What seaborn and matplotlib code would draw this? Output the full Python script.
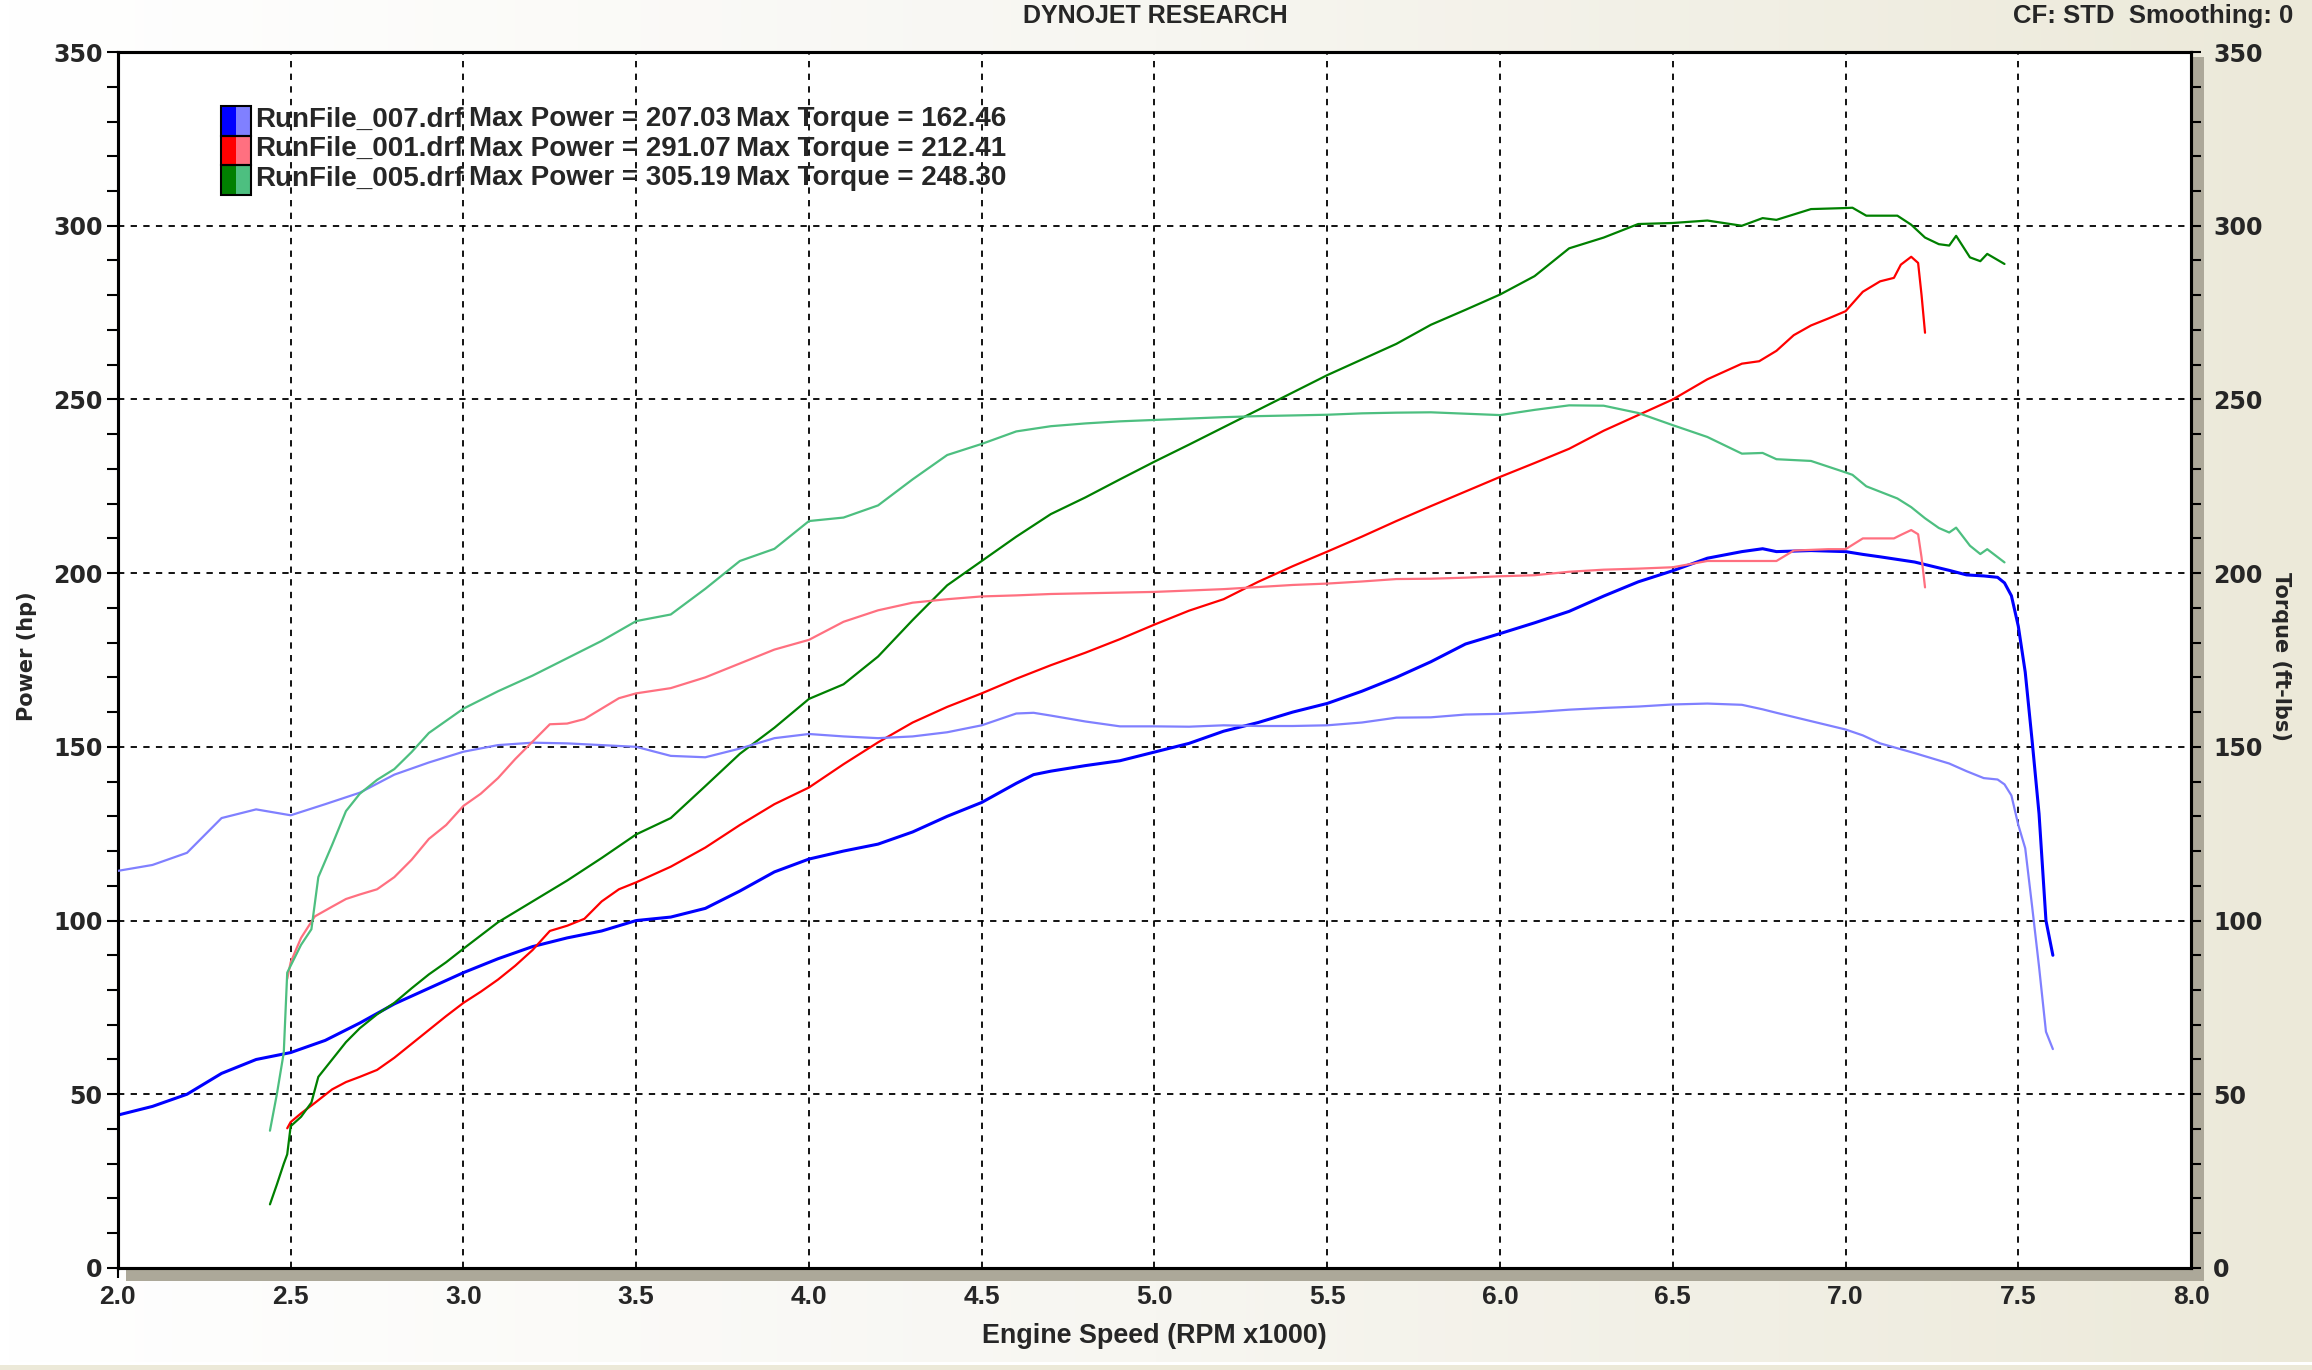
import numpy as np
import pandas as pd
import matplotlib
matplotlib.use("Agg")
import matplotlib.pyplot as plt
import seaborn as sns
from matplotlib.patches import Rectangle
from matplotlib.colors import LinearSegmentedColormap

# ---------------- data ----------------
rpm_007 = [2.0, 2.1, 2.2, 2.3, 2.4, 2.5, 2.6, 2.7, 2.8, 2.9, 3.0, 3.1, 3.2, 3.3, 3.4, 3.5, 3.6, 3.7, 3.8, 3.9,
           4.0, 4.1, 4.2, 4.3, 4.4, 4.5, 4.6, 4.65, 4.7, 4.8, 4.9, 5.0, 5.1, 5.2, 5.3, 5.4, 5.5, 5.6, 5.7, 5.8,
           5.9, 6.0, 6.1, 6.2, 6.3, 6.4, 6.5, 6.6, 6.7, 6.76, 6.8, 6.9, 7.0, 7.05, 7.1, 7.2, 7.3, 7.35, 7.4,
           7.44, 7.46, 7.48, 7.5, 7.52, 7.54, 7.56, 7.58, 7.6]
power_007 = [44, 46.5, 50, 56, 60, 62, 65.5, 70.5, 76, 80.5, 85, 89, 92.5, 95, 97, 100, 101, 103.5, 108.5, 114,
             117.7, 120, 122, 125.5, 130, 134, 139.5, 142, 143, 144.6, 146, 148.5, 151, 154.5, 157, 160, 162.5,
             166, 170, 174.5, 179.6, 182.6, 185.7, 189, 193.4, 197.5, 200.7, 204.3, 206.2, 207.03, 206.2, 206.5,
             206.2, 205.4, 204.7, 203.2, 200.8, 199.5, 199.2, 198.8, 197.2, 193.5, 184.7, 171.5, 151.7, 130.7,
             100, 90]
torque_007 = [114.3, 116, 119.5, 129.5, 132, 130.3, 133.5, 136.8, 142, 145.5, 148.6, 150.5, 151.2, 151, 150.5,
              150, 147.4, 147, 149.5, 152.5, 153.7, 153, 152.5, 153, 154.2, 156.2, 159.6, 159.8, 159, 157.3,
              155.9, 155.9, 155.8, 156.2, 156, 156, 156.2, 157, 158.4, 158.5, 159.3, 159.5, 160, 160.7, 161.2,
              161.6, 162.2, 162.46, 162.1, 160.8, 159.8, 157.4, 155, 153.3, 151, 148.2, 145.2, 143, 141, 140.6,
              139.2, 136, 127.5, 120.8, 104, 86.7, 68, 63]

rpm_001 = [2.49, 2.5, 2.53, 2.57, 2.62, 2.66, 2.7, 2.75, 2.8, 2.85, 2.9, 2.95, 3.0, 3.05, 3.1, 3.15, 3.2, 3.25,
           3.3, 3.35, 3.4, 3.45, 3.5, 3.6, 3.7, 3.8, 3.9, 4.0, 4.1, 4.2, 4.3, 4.4, 4.5, 4.6, 4.7, 4.8, 4.9, 5.0,
           5.1, 5.2, 5.3, 5.4, 5.5, 5.6, 5.7, 5.8, 5.9, 6.0, 6.1, 6.2, 6.3, 6.4, 6.5, 6.6, 6.7, 6.75, 6.8, 6.85,
           6.9, 6.95, 7.0, 7.05, 7.1, 7.14, 7.16, 7.19, 7.21, 7.22, 7.23]
power_001 = [40.2, 42, 44.5, 47.5, 51.4, 53.5, 55, 57, 60.5, 64.5, 68.5, 72.5, 76.3, 79.5, 83, 87, 91.5, 97,
             98.5, 100.5, 105.5, 109, 111, 115.5, 121, 127.5, 133.5, 138.3, 145, 151.3, 157, 161.5, 165.4, 169.6,
             173.5, 177.1, 181, 185.2, 189.2, 192.5, 197.5, 202, 206.2, 210.5, 215, 219.3, 223.5, 227.7, 231.7,
             235.8, 241, 245.5, 250, 255.8, 260.3, 261, 264, 268.5, 271.3, 273.3, 275.4, 281, 284, 285, 288.8,
             291.07, 289.3, 280, 269.2]
torque_001 = [83.2, 88, 95, 101.2, 104, 106.2, 107.5, 109, 112.5, 117.5, 123.5, 127.5, 133, 136.5, 141, 146.5,
              151.5, 156.5, 156.7, 158, 161, 164, 165.4, 166.9, 170, 174, 178, 180.8, 186, 189.3, 191.5, 192.5,
              193.3, 193.6, 194, 194.2, 194.4, 194.6, 195, 195.4, 196, 196.6, 197, 197.6, 198.3, 198.4, 198.7,
              199.1, 199.4, 200.4, 201, 201.3, 201.7, 203.5, 203.5, 203.5, 203.5, 206.5, 206.7, 206.9, 206.9,
              210, 210, 210, 211, 212.41, 211.2, 204.5, 195.9]

rpm_005 = [2.44, 2.46, 2.48, 2.49, 2.5, 2.53, 2.56, 2.58, 2.62, 2.66, 2.7, 2.75, 2.8, 2.85, 2.9, 2.95, 3.0, 3.1,
           3.2, 3.3, 3.4, 3.5, 3.6, 3.7, 3.8, 3.9, 4.0, 4.1, 4.2, 4.3, 4.4, 4.5, 4.6, 4.7, 4.8, 4.9, 5.0, 5.1,
           5.2, 5.3, 5.4, 5.5, 5.6, 5.7, 5.8, 5.9, 6.0, 6.1, 6.2, 6.3, 6.4, 6.5, 6.6, 6.7, 6.76, 6.8, 6.9, 7.0,
           7.02, 7.06, 7.15, 7.19, 7.23, 7.27, 7.3, 7.32, 7.36, 7.39, 7.41, 7.46]
power_005 = [18.3, 24, 30, 32.7, 40.8, 43.5, 47.6, 55, 60, 65, 69, 73, 76.3, 80.5, 84.5, 88, 91.9, 99.5, 105.5,
             111.5, 118, 124.8, 129.5, 138.7, 148, 155.5, 163.8, 168, 176, 186.5, 196.5, 203.5, 210.5, 217,
             221.8, 227, 232.1, 237, 242, 247, 252, 257, 261.5, 266, 271.5, 275.8, 280.2, 285.5, 293.5, 296.6,
             300.5, 300.8, 301.5, 300, 302.2, 301.7, 304.8, 305.1, 305.19, 302.9, 302.9, 300.3, 296.6, 294.7,
             294.3, 297.1, 290.9, 289.8, 291.9, 289]
torque_005 = [39.5, 50, 62, 85, 87, 93, 97.5, 112.5, 121.8, 131.5, 136.5, 140.5, 143.6, 148.5, 154, 157.5, 161,
              166, 170.5, 175.5, 180.5, 186.2, 188.1, 195.5, 203.5, 207, 215, 216, 219.5, 227, 234, 237.2, 240.8,
              242.3, 243.1, 243.7, 244.1, 244.5, 244.9, 245.2, 245.4, 245.6, 246, 246.2, 246.3, 245.9, 245.5,
              247, 248.3, 248.2, 246.1, 242.6, 239.2, 234.4, 234.6, 232.8, 232.3, 229, 228.3, 225, 221.5, 219,
              215.8, 213, 211.7, 213.1, 207.9, 205.5, 206.9, 203.1]

run_names = ["RunFile_007.drf", "RunFile_001.drf", "RunFile_005.drf"]
max_power = ["207.03", "291.07", "305.19"]
max_torque = ["162.46", "212.41", "248.30"]
dark_colors = ["#0000FF", "#FF0000", "#008000"]
light_colors = ["#8080FF", "#FF7080", "#4DBF80"]

x_ticks = [2.0, 2.5, 3.0, 3.5, 4.0, 4.5, 5.0, 5.5, 6.0, 6.5, 7.0, 7.5, 8.0]
y_ticks = [0, 50, 100, 150, 200, 250, 300, 350]

runs = [(rpm_007, power_007, torque_007), (rpm_001, power_001, torque_001), (rpm_005, power_005, torque_005)]

# ---------------- style ----------------
sns.set_style("white")
plt.rcParams["font.family"] = ["DejaVu Sans"]
NARROW = ["Liberation Sans", "DejaVu Sans"]

fig = plt.figure(figsize=(23.12, 13.70), dpi=100)

# background gradient
bg = fig.add_axes([0, 0, 1, 1], zorder=-10)
cmap = LinearSegmentedColormap.from_list("bg", ["#FFFFFF", "#F7F6F1", "#ECE9D9"])
grad = np.linspace(0, 1, 256).reshape(1, -1)
bg.imshow(grad, aspect="auto", cmap=cmap, extent=[0, 1, 0, 1])
bg.set_xlim(0, 1); bg.set_ylim(0, 1)
bg.axis("off")
bg.add_patch(Rectangle((0, 0), 1, 5 / 1370, color="#ECE9D8", lw=0))
bg.add_patch(Rectangle((0, 5 / 1370), 1, 3 / 1370, color="#FFFFFF", lw=0))

ax = fig.add_axes([0.0510, 0.0745, 0.8967, 0.8875])
ax.set_facecolor("white")
ax2 = ax.twinx()

for (rpm, pw, tq), dc, lc, lw in zip(runs, dark_colors, light_colors, [2.2, 1.6, 1.6]):
    sns.lineplot(x=rpm, y=pw, ax=ax, color=dc, lw=lw, estimator=None, sort=False, zorder=3)
    sns.lineplot(x=rpm, y=tq, ax=ax2, color=lc, lw=1.6, estimator=None, sort=False, zorder=3)

for a in (ax, ax2):
    a.set_xlim(2, 8)
    a.set_ylim(0, 350)
    a.set_xlabel("")
    a.set_ylabel("")
    for s in a.spines.values():
        s.set_visible(True)
        s.set_color("black")
        s.set_linewidth(2.2)

ax.set_xticks(x_ticks)
ax.set_xticklabels([f"{v:.1f}" for v in x_ticks], fontsize=19, fontweight="bold", family=NARROW)
ax.set_xticks(np.arange(2.0, 8.001, 0.1), minor=True)
ax.set_yticks(y_ticks)
ax.set_yticklabels([str(v) for v in y_ticks], fontsize=17, fontweight="bold")
ax.set_yticks(np.arange(0, 351, 10), minor=True)
ax.tick_params(axis="x", which="both", direction="out", length=7, width=1.5, color="black", pad=5,
               bottom=True, top=False)
ax.tick_params(axis="y", which="both", direction="out", length=8, width=1.5, color="black", pad=3,
               left=True, right=False)
ax2.set_yticks(y_ticks)
ax2.set_yticklabels([str(v) for v in y_ticks], fontsize=17, fontweight="bold")
ax2.set_yticks(np.arange(0, 351, 10), minor=True)
ax2.tick_params(axis="y", which="both", direction="out", length=7, width=1.5, color="black", pad=9,
                right=True, left=False)

ax.grid(True, which="major", color="black", linestyle=(0, (3.5, 3.5)), linewidth=1.3)
ax.set_axisbelow(True)

# grey bands along bottom and right edges
hb = 13 / (0.8875 * 1370)
wb = 13 / (0.8967 * 2312)
ax.add_patch(Rectangle((0.004, -hb), 1 + wb - 0.004, hb, transform=ax.transAxes, color="#ACA899",
                       clip_on=False, zorder=1, lw=0))
ax.add_patch(Rectangle((1, -hb), wb, 1 + hb - 0.004, transform=ax.transAxes, color="#ACA899",
                       clip_on=False, zorder=1, lw=0))

# texts
fig.text(0.4995, 0.988, "DYNOJET RESEARCH", ha="center", va="center", fontsize=18, fontweight="bold",
         family=NARROW)
fig.text(0.992, 0.988, "CF: STD  Smoothing: 0", ha="right", va="center", fontsize=18.5, fontweight="bold",
         family=NARROW)
fig.text(0.4995, 0.0248, "Engine Speed (RPM x1000)", ha="center", va="center", fontsize=19.4,
         fontweight="bold", family=NARROW)
fig.text(0.0115, 0.521, "Power (hp)", rotation=90, ha="center", va="center", fontsize=15, fontweight="bold")
fig.text(0.9866, 0.521, "Torque (ft-lbs)", rotation=-90, ha="center", va="center", fontsize=15,
         fontweight="bold")

# legend block
W, H = 2312, 1370
row_y = [119.4, 149.0, 178.4]
for i in range(3):
    top = 106 + i * 29.7
    fig.patches.append(Rectangle((221 / W, 1 - (top + 29.7) / H), 15 / W, 29.7 / H,
                                 transform=fig.transFigure, color=dark_colors[i], lw=0, zorder=5))
    fig.patches.append(Rectangle((236 / W, 1 - (top + 29.7) / H), 15 / W, 29.7 / H,
                                 transform=fig.transFigure, color=light_colors[i], lw=0, zorder=5))
    fig.patches.append(Rectangle((221 / W, 1 - (top + 29.7) / H), 30 / W, 29.7 / H,
                                 transform=fig.transFigure, fill=False, edgecolor="black", lw=1.5, zorder=6))
    y = 1 - row_y[i] / H
    fig.text(255 / W, y, run_names[i], ha="left", va="center", fontsize=20, fontweight="bold", family=NARROW)
    fig.text(469 / W, y, f"Max Power = {max_power[i]}", ha="left", va="center", fontsize=20,
             fontweight="bold", family=NARROW)
    fig.text(736 / W, y, f"Max Torque = {max_torque[i]}", ha="left", va="center", fontsize=20,
             fontweight="bold", family=NARROW)

fig.savefig("out.png", dpi=100)
